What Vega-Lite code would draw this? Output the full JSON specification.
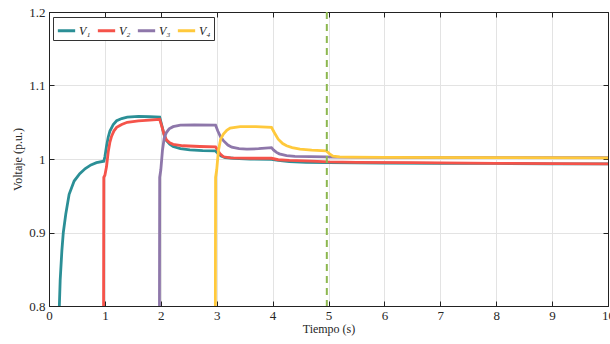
{
  "$schema": "https://vega.github.io/schema/vega-lite/v6.json",
  "width": 559,
  "height": 294,
  "autosize": "none",
  "padding": {"left": 49, "top": 12, "right": 2, "bottom": 38},
  "background": "white",
  "config": {
    "font": "Liberation Serif, Times New Roman, serif",
    "view": {"stroke": "#222", "strokeWidth": 1},
    "axis": {
      "labelFont": "Liberation Serif, Times New Roman, serif",
      "titleFont": "Liberation Serif, Times New Roman, serif",
      "labelFontSize": 13,
      "titleFontSize": 12,
      "titleFontWeight": "normal",
      "labelColor": "#262626",
      "titleColor": "#262626",
      "domainColor": "#222",
      "tickColor": "#222",
      "gridColor": "#e3e3e3",
      "gridWidth": 1,
      "tickSize": -5,
      "labelPadding": 9,
      "labelFlush": false,
      "labelOverlap": false
    }
  },
  "datasets": {
    "series": [
      {"t": 0.17, "v": 0.78, "s": "V₁"},
      {"t": 0.185, "v": 0.8, "s": "V₁"},
      {"t": 0.2, "v": 0.835, "s": "V₁"},
      {"t": 0.23, "v": 0.875, "s": "V₁"},
      {"t": 0.256, "v": 0.9, "s": "V₁"},
      {"t": 0.3, "v": 0.925, "s": "V₁"},
      {"t": 0.36, "v": 0.952, "s": "V₁"},
      {"t": 0.45, "v": 0.97, "s": "V₁"},
      {"t": 0.55, "v": 0.98, "s": "V₁"},
      {"t": 0.65, "v": 0.987, "s": "V₁"},
      {"t": 0.75, "v": 0.992, "s": "V₁"},
      {"t": 0.85, "v": 0.995, "s": "V₁"},
      {"t": 0.98, "v": 0.997, "s": "V₁"},
      {"t": 1.0, "v": 1.003, "s": "V₁"},
      {"t": 1.03, "v": 1.018, "s": "V₁"},
      {"t": 1.06, "v": 1.03, "s": "V₁"},
      {"t": 1.09, "v": 1.038, "s": "V₁"},
      {"t": 1.15, "v": 1.047, "s": "V₁"},
      {"t": 1.21, "v": 1.052, "s": "V₁"},
      {"t": 1.3, "v": 1.055, "s": "V₁"},
      {"t": 1.4, "v": 1.057, "s": "V₁"},
      {"t": 1.6, "v": 1.058, "s": "V₁"},
      {"t": 1.8, "v": 1.0575, "s": "V₁"},
      {"t": 1.98, "v": 1.057, "s": "V₁"},
      {"t": 2.02, "v": 1.045, "s": "V₁"},
      {"t": 2.06, "v": 1.033, "s": "V₁"},
      {"t": 2.1, "v": 1.025, "s": "V₁"},
      {"t": 2.16, "v": 1.02, "s": "V₁"},
      {"t": 2.22, "v": 1.017, "s": "V₁"},
      {"t": 2.35, "v": 1.014, "s": "V₁"},
      {"t": 2.52, "v": 1.0125, "s": "V₁"},
      {"t": 2.75, "v": 1.0115, "s": "V₁"},
      {"t": 2.98, "v": 1.011, "s": "V₁"},
      {"t": 3.03, "v": 1.007, "s": "V₁"},
      {"t": 3.08, "v": 1.004, "s": "V₁"},
      {"t": 3.15, "v": 1.002, "s": "V₁"},
      {"t": 3.3, "v": 1.001, "s": "V₁"},
      {"t": 3.6, "v": 1.0, "s": "V₁"},
      {"t": 3.98, "v": 0.9995, "s": "V₁"},
      {"t": 4.1, "v": 0.998, "s": "V₁"},
      {"t": 4.3, "v": 0.9965, "s": "V₁"},
      {"t": 4.6, "v": 0.9955, "s": "V₁"},
      {"t": 5.0, "v": 0.995, "s": "V₁"},
      {"t": 6.0, "v": 0.9945, "s": "V₁"},
      {"t": 7.0, "v": 0.994, "s": "V₁"},
      {"t": 8.0, "v": 0.994, "s": "V₁"},
      {"t": 9.0, "v": 0.9935, "s": "V₁"},
      {"t": 10.0, "v": 0.9935, "s": "V₁"},

      {"t": 0.975, "v": 0.75, "s": "V₂"},
      {"t": 0.98, "v": 0.975, "s": "V₂"},
      {"t": 1.0, "v": 0.978, "s": "V₂"},
      {"t": 1.03, "v": 0.99, "s": "V₂"},
      {"t": 1.06, "v": 1.01, "s": "V₂"},
      {"t": 1.09, "v": 1.023, "s": "V₂"},
      {"t": 1.12, "v": 1.031, "s": "V₂"},
      {"t": 1.16, "v": 1.038, "s": "V₂"},
      {"t": 1.21, "v": 1.043, "s": "V₂"},
      {"t": 1.3, "v": 1.047, "s": "V₂"},
      {"t": 1.4, "v": 1.05, "s": "V₂"},
      {"t": 1.6, "v": 1.052, "s": "V₂"},
      {"t": 1.8, "v": 1.053, "s": "V₂"},
      {"t": 1.98, "v": 1.054, "s": "V₂"},
      {"t": 2.02, "v": 1.044, "s": "V₂"},
      {"t": 2.06, "v": 1.033, "s": "V₂"},
      {"t": 2.1, "v": 1.026, "s": "V₂"},
      {"t": 2.16, "v": 1.022, "s": "V₂"},
      {"t": 2.22, "v": 1.02, "s": "V₂"},
      {"t": 2.4, "v": 1.018, "s": "V₂"},
      {"t": 2.7, "v": 1.017, "s": "V₂"},
      {"t": 2.98, "v": 1.0165, "s": "V₂"},
      {"t": 3.02, "v": 1.012, "s": "V₂"},
      {"t": 3.06, "v": 1.007, "s": "V₂"},
      {"t": 3.12, "v": 1.003, "s": "V₂"},
      {"t": 3.25, "v": 1.0015, "s": "V₂"},
      {"t": 3.6, "v": 1.001, "s": "V₂"},
      {"t": 3.98, "v": 1.001, "s": "V₂"},
      {"t": 4.1, "v": 0.999, "s": "V₂"},
      {"t": 4.3, "v": 0.998, "s": "V₂"},
      {"t": 4.7, "v": 0.997, "s": "V₂"},
      {"t": 5.0, "v": 0.996, "s": "V₂"},
      {"t": 5.5, "v": 0.9955, "s": "V₂"},
      {"t": 6.5, "v": 0.995, "s": "V₂"},
      {"t": 8.0, "v": 0.994, "s": "V₂"},
      {"t": 10.0, "v": 0.9935, "s": "V₂"},

      {"t": 1.975, "v": 0.75, "s": "V₃"},
      {"t": 1.98, "v": 0.975, "s": "V₃"},
      {"t": 2.0, "v": 0.985, "s": "V₃"},
      {"t": 2.03, "v": 1.012, "s": "V₃"},
      {"t": 2.06, "v": 1.028, "s": "V₃"},
      {"t": 2.1, "v": 1.036, "s": "V₃"},
      {"t": 2.15, "v": 1.041, "s": "V₃"},
      {"t": 2.22, "v": 1.044, "s": "V₃"},
      {"t": 2.35, "v": 1.046, "s": "V₃"},
      {"t": 2.6, "v": 1.0465, "s": "V₃"},
      {"t": 2.98, "v": 1.046, "s": "V₃"},
      {"t": 3.02, "v": 1.038, "s": "V₃"},
      {"t": 3.07, "v": 1.03, "s": "V₃"},
      {"t": 3.12, "v": 1.025, "s": "V₃"},
      {"t": 3.2, "v": 1.019, "s": "V₃"},
      {"t": 3.27, "v": 1.016, "s": "V₃"},
      {"t": 3.4, "v": 1.014, "s": "V₃"},
      {"t": 3.54, "v": 1.0135, "s": "V₃"},
      {"t": 3.75, "v": 1.014, "s": "V₃"},
      {"t": 3.98, "v": 1.0155, "s": "V₃"},
      {"t": 4.02, "v": 1.012, "s": "V₃"},
      {"t": 4.07, "v": 1.009, "s": "V₃"},
      {"t": 4.12, "v": 1.007, "s": "V₃"},
      {"t": 4.25, "v": 1.0045, "s": "V₃"},
      {"t": 4.4, "v": 1.0035, "s": "V₃"},
      {"t": 4.96, "v": 1.003, "s": "V₃"},
      {"t": 5.1, "v": 1.0025, "s": "V₃"},
      {"t": 6.0, "v": 1.0022, "s": "V₃"},
      {"t": 8.0, "v": 1.002, "s": "V₃"},
      {"t": 10.0, "v": 1.0018, "s": "V₃"},

      {"t": 2.975, "v": 0.75, "s": "V₄"},
      {"t": 2.98, "v": 0.975, "s": "V₄"},
      {"t": 3.0, "v": 0.985, "s": "V₄"},
      {"t": 3.03, "v": 1.011, "s": "V₄"},
      {"t": 3.07, "v": 1.027, "s": "V₄"},
      {"t": 3.12, "v": 1.034, "s": "V₄"},
      {"t": 3.18, "v": 1.039, "s": "V₄"},
      {"t": 3.24, "v": 1.042, "s": "V₄"},
      {"t": 3.42, "v": 1.044, "s": "V₄"},
      {"t": 3.7, "v": 1.044, "s": "V₄"},
      {"t": 3.98, "v": 1.043, "s": "V₄"},
      {"t": 4.03, "v": 1.036, "s": "V₄"},
      {"t": 4.1, "v": 1.027, "s": "V₄"},
      {"t": 4.18, "v": 1.021, "s": "V₄"},
      {"t": 4.25, "v": 1.018, "s": "V₄"},
      {"t": 4.35, "v": 1.0155, "s": "V₄"},
      {"t": 4.49, "v": 1.0135, "s": "V₄"},
      {"t": 4.7, "v": 1.012, "s": "V₄"},
      {"t": 4.96, "v": 1.011, "s": "V₄"},
      {"t": 5.02, "v": 1.007, "s": "V₄"},
      {"t": 5.08, "v": 1.004, "s": "V₄"},
      {"t": 5.2, "v": 1.0028, "s": "V₄"},
      {"t": 5.4, "v": 1.0025, "s": "V₄"},
      {"t": 6.0, "v": 1.0022, "s": "V₄"},
      {"t": 8.0, "v": 1.002, "s": "V₄"},
      {"t": 10.0, "v": 1.0015, "s": "V₄"}
    ],
    "marker": [{"t": 4.97}]
  },
  "layer": [
    {
      "data": {"name": "series"},
      "mark": {"type": "line", "strokeWidth": 2.8, "clip": true},
      "encoding": {
        "x": {
          "field": "t", "type": "quantitative",
          "scale": {"domain": [0, 10], "nice": false, "zero": false},
          "axis": {"title": "Tiempo (s)", "values": [0,1,2,3,4,5,6,7,8,9,10], "grid": true, "titlePadding": 1, "labelPadding": 8}
        },
        "y": {
          "field": "v", "type": "quantitative",
          "scale": {"domain": [0.8, 1.2], "nice": false, "zero": false},
          "axis": {"title": "Voltaje (p.u.)", "values": [0.8, 0.9, 1, 1.1, 1.2], "format": "~g", "grid": true, "titlePadding": 4}
        },
        "color": {
          "field": "s", "type": "nominal",
          "scale": {"domain": ["V₁", "V₂", "V₃", "V₄"], "range": ["#2B8F96", "#F5534A", "#8E77AA", "#FFC93C"]},
          "legend": {
            "title": null,
            "orient": "none",
            "legendX": 4,
            "legendY": 5,
            "direction": "horizontal",
            "columns": 4,
            "symbolType": "stroke",
            "symbolSize": 300,
            "symbolStrokeWidth": 3,
            "labelFont": "Liberation Serif, Times New Roman, serif",
            "labelFontStyle": "italic",
            "labelFontSize": 12,
            "labelColor": "#222",
            "labelOffset": 2,
            "columnPadding": 0,
            "rowPadding": 0,
            "strokeColor": "#333",
            "fillColor": "white",
            "padding": 3
          }
        }
      }
    },
    {
      "data": {"name": "marker"},
      "mark": {"type": "rule", "color": "#8DB850", "strokeWidth": 2, "strokeDash": [7, 5]},
      "encoding": {
        "x": {"field": "t", "type": "quantitative", "axis": {"orient": "top", "labels": false, "title": null, "grid": false, "values": [0,1,2,3,4,5,6,7,8,9,10]}}
      }
    },
    {
      "data": {"values": [{"v": 1}]},
      "mark": {"type": "rule", "opacity": 0},
      "encoding": {
        "y": {"field": "v", "type": "quantitative", "axis": {"orient": "right", "labels": false, "title": null, "grid": false, "values": [0.8, 0.9, 1, 1.1, 1.2]}}
      }
    }
  ],
  "resolve": {"axis": {"x": "independent", "y": "independent"}}
}
